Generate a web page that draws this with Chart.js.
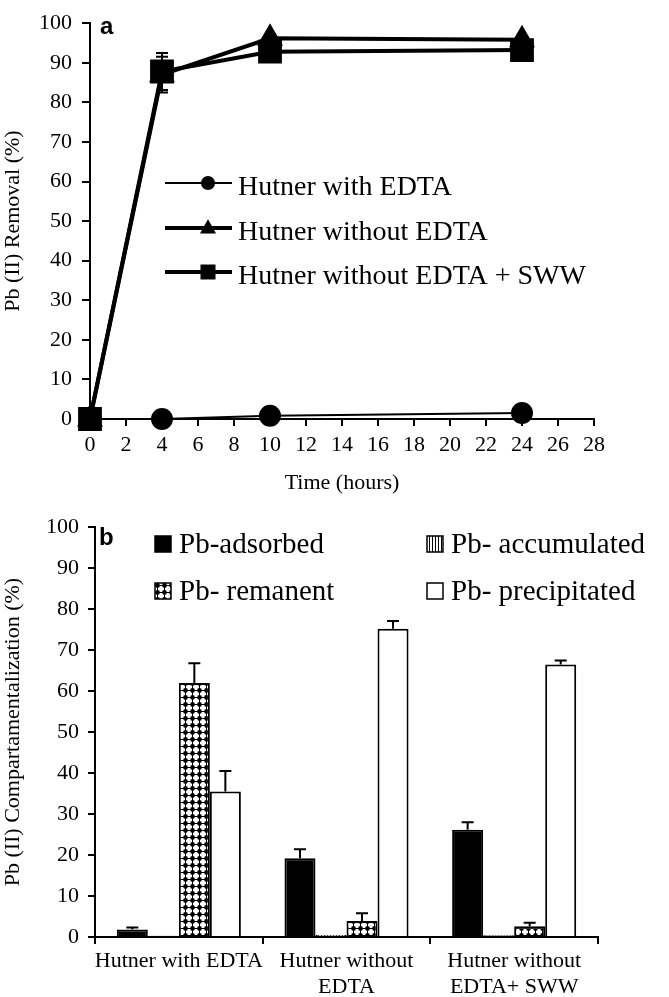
<!DOCTYPE html>
<html>
<head>
<meta charset="utf-8">
<script src="https://cdn.jsdelivr.net/npm/chart.js@4.4.0/dist/chart.umd.min.js"></script>
<style>
  body { margin: 0; background: #fff; }
  #wrap { position: relative; width: 669px; height: 997px; }
  canvas { position: absolute; left: 0; }
  #chartA { top: 0; }
  #chartB { top: 505px; }
</style>
</head>
<body>
<div id="wrap">
  <canvas id="chartA" width="669" height="510"></canvas>
  <canvas id="chartB" width="669" height="492"></canvas>
</div>
<script>
// ---- data (panel a) ----
var hours = [0, 4, 10, 24];
var withEdta = [0, 0, 0.8, 1.5];
var withoutEdta = [0, 87, 96.2, 95.8];
var withoutEdtaSww = [0, 87.8, 92.8, 93.2];
var withEdtaErr = [0, 0.2, 0.3, 0.4];
var withoutEdtaErr = [0, 4.5, 0.8, 0.6];
var withoutEdtaSwwErr = [0, 4.7, 0.8, 0.6];

// ---- data (panel b) ----
var groups = [['Hutner with EDTA'], ['Hutner without', 'EDTA'], ['Hutner without', 'EDTA+ SWW']];
var adsorbed = [1.8, 19.2, 26.2];
var accumulated = [0.3, 0.5, 0.4];
var remanent = [62, 3.9, 2.6];
var precipitated = [35.5, 75.2, 66.5];
var adsorbedErr = [0.5, 2.2, 1.8];
var accumulatedErr = [0, 0, 0];
var remanentErr = [4.8, 1.9, 0.9];
var precipitatedErr = [5, 1.9, 1];

var SERIF = '"Liberation Serif", "Times New Roman", serif';
Chart.defaults.color = '#000';
Chart.defaults.font.family = SERIF;
Chart.defaults.font.size = 22;

function pts(xs, ys) {
    return xs.map(function (x, i) { return { x: x, y: ys[i] }; });
}

function marker(ctx, style, x, y, s) {
    ctx.fillStyle = '#000';
    ctx.beginPath();
    if (style === 'circle') {
        ctx.arc(x, y, s, 0, Math.PI * 2);
    } else if (style === 'triangle') {
        ctx.moveTo(x, y - s * 1.1);
        ctx.lineTo(x + s, y + s * 0.7);
        ctx.lineTo(x - s, y + s * 0.7);
        ctx.closePath();
    } else {
        ctx.rect(x - s, y - s, s * 2, s * 2);
    }
    ctx.fill();
}

// error bars for the line chart (drawn under the markers)
var lineErrors = {
    id: 'lineErrors',
    beforeDatasetsDraw: function (chart) {
        var ctx = chart.ctx, ys = chart.scales.y;
        chart.data.datasets.forEach(function (ds, i) {
            var meta = chart.getDatasetMeta(i);
            ds.errors.forEach(function (e, j) {
                if (!e) return;
                var p = meta.data[j];
                var v = ds.data[j].y;
                var t = ys.getPixelForValue(v + e), b = ys.getPixelForValue(v - e);
                ctx.save();
                ctx.strokeStyle = '#000';
                ctx.lineWidth = 2;
                ctx.beginPath();
                ctx.moveTo(p.x, t); ctx.lineTo(p.x, b);
                ctx.moveTo(p.x - 6, t); ctx.lineTo(p.x + 6, t);
                ctx.moveTo(p.x - 6, b); ctx.lineTo(p.x + 6, b);
                ctx.stroke();
                ctx.restore();
            });
        });
    }
};

var lineLegend = {
    id: 'lineLegend',
    afterDraw: function (chart) {
        var ctx = chart.ctx;
        var rows = [188, 233, 277];
        var sizes = { circle: 7, triangle: 8, rect: 7.5 };
        chart.data.datasets.forEach(function (ds, i) {
            var y = rows[ds.legendRow];
            ctx.save();
            ctx.strokeStyle = '#000';
            ctx.lineWidth = ds.borderWidth;
            ctx.beginPath();
            ctx.moveTo(165, y - 5); ctx.lineTo(232, y - 5);
            ctx.stroke();
            marker(ctx, ds.pointStyle, 208, y - 5, sizes[ds.pointStyle]);
            ctx.font = '28px ' + SERIF;
            ctx.textBaseline = 'middle';
            ctx.fillText(ds.label, 238, y);
            ctx.restore();
        });
    }
};

var panelLetter = {
    id: 'panelLetter',
    afterDraw: function (chart) {
        var o = chart.options.plugins.panelLetter;
        var ctx = chart.ctx;
        ctx.save();
        ctx.font = 'bold 24px "Liberation Sans", Arial, sans-serif';
        ctx.fillStyle = '#000';
        ctx.textBaseline = 'alphabetic';
        ctx.fillText(o.text, o.x, o.y);
        ctx.restore();
    }
};

var ctxA = document.getElementById('chartA').getContext('2d');
var chartA = new Chart(ctxA, {
    type: 'line',
    data: {
        datasets: [{
            label: 'Hutner with EDTA',
            data: pts(hours, withEdta),
            errors: withEdtaErr,
            legendRow: 0,
            borderColor: '#000',
            backgroundColor: '#000',
            borderWidth: 2,
            pointStyle: 'circle',
            pointRadius: 10,
            order: 2,
            clip: false
        }, {
            label: 'Hutner without EDTA',
            data: pts(hours, withoutEdta),
            errors: withoutEdtaErr,
            legendRow: 1,
            borderColor: '#000',
            backgroundColor: '#000',
            borderWidth: 4,
            pointStyle: 'triangle',
            pointRadius: 11,
            order: 1,
            clip: false
        }, {
            label: 'Hutner without EDTA + SWW',
            data: pts(hours, withoutEdtaSww),
            errors: withoutEdtaSwwErr,
            legendRow: 2,
            borderColor: '#000',
            backgroundColor: '#000',
            borderWidth: 4,
            pointStyle: 'rect',
            pointRadius: 14,
            order: 0,
            clip: false
        }]
    },
    options: {
        responsive: false,
        animation: false,
        layout: { padding: { top: 18, left: 0, right: 75, bottom: 0 } },
        plugins: {
            legend: { display: false },
            tooltip: { enabled: false },
            panelLetter: { text: 'a', x: 100, y: 34 }
        },
        scales: {
            x: {
                type: 'linear',
                min: 0,
                max: 28,
                ticks: { stepSize: 2, padding: 6 },
                grid: { display: true, drawOnChartArea: false, color: '#000', lineWidth: 2, tickLength: 7 },
                border: { color: '#000', width: 2 },
                title: { display: true, text: 'Time (hours)', padding: { top: 0, bottom: 14 } },
                afterFit: function (s) { s.height = 91; }
            },
            y: {
                min: 0,
                max: 100,
                ticks: { stepSize: 10, padding: 10 },
                grid: { display: true, drawOnChartArea: false, color: '#000', lineWidth: 2, tickLength: 8 },
                border: { color: '#000', width: 2 },
                title: { display: true, text: 'Pb (II) Removal (%)', padding: { top: 0, bottom: 0 } },
                afterFit: function (s) { s.width = 90; }
            }
        }
    },
    plugins: [lineErrors, lineLegend, panelLetter]
});

// ---- panel b patterns ----
function dotPattern(ctx) {
    var c = document.createElement('canvas');
    c.width = 7; c.height = 7;
    var g = c.getContext('2d');
    g.fillStyle = '#fff'; g.fillRect(0, 0, 7, 7);
    g.fillStyle = '#000';
    g.beginPath(); g.arc(3.5, 3.5, 2.4, 0, Math.PI * 2); g.fill();
    g.fillRect(0, 3, 7, 1);
    g.fillRect(3, 0, 1, 7);
    return ctx.createPattern(c, 'repeat');
}
function stripePattern(ctx) {
    var c = document.createElement('canvas');
    c.width = 3; c.height = 3;
    var g = c.getContext('2d');
    g.fillStyle = '#fff'; g.fillRect(0, 0, 3, 3);
    g.fillStyle = '#000'; g.fillRect(0, 0, 1, 3);
    return ctx.createPattern(c, 'repeat');
}

var barErrors = {
    id: 'barErrors',
    afterDatasetsDraw: function (chart) {
        var ctx = chart.ctx, ys = chart.scales.y;
        chart.data.datasets.forEach(function (ds, i) {
            var meta = chart.getDatasetMeta(i);
            ds.errors.forEach(function (e, j) {
                if (!e) return;
                var bar = meta.data[j];
                var t = ys.getPixelForValue(ds.data[j] + e);
                ctx.save();
                ctx.strokeStyle = '#000';
                ctx.lineWidth = 2;
                ctx.beginPath();
                ctx.moveTo(bar.x, bar.y); ctx.lineTo(bar.x, t);
                ctx.moveTo(bar.x - 6, t); ctx.lineTo(bar.x + 6, t);
                ctx.stroke();
                ctx.restore();
            });
        });
    }
};

var barLegend = {
    id: 'barLegend',
    afterDraw: function (chart) {
        var ctx = chart.ctx;
        // positions in canvas B coordinates (canvas top at 505)
        var spots = [[155, 40], [427, 40], [155, 87], [427, 87]];
        chart.data.datasets.forEach(function (ds, i) {
            var p = spots[i];
            ctx.save();
            ctx.fillStyle = ds.backgroundColor;
            ctx.fillRect(p[0], p[1] - 9, 16, 16);
            ctx.strokeStyle = '#000';
            ctx.lineWidth = 1.5;
            ctx.strokeRect(p[0], p[1] - 9, 16, 16);
            ctx.fillStyle = '#000';
            ctx.font = '29px ' + SERIF;
            ctx.textBaseline = 'middle';
            ctx.fillText(ds.label, p[0] + 24, p[1]);
            ctx.restore();
        });
    }
};

var ctxB = document.getElementById('chartB').getContext('2d');
var chartB = new Chart(ctxB, {
    type: 'bar',
    data: {
        labels: groups,
        datasets: [{
            label: 'Pb-adsorbed',
            data: adsorbed,
            errors: adsorbedErr,
            backgroundColor: '#000'
        }, {
            label: 'Pb- accumulated',
            data: accumulated,
            errors: accumulatedErr,
            backgroundColor: stripePattern(ctxB)
        }, {
            label: 'Pb- remanent',
            data: remanent,
            errors: remanentErr,
            backgroundColor: dotPattern(ctxB)
        }, {
            label: 'Pb- precipitated',
            data: precipitated,
            errors: precipitatedErr,
            backgroundColor: '#fff'
        }]
    },
    options: {
        responsive: false,
        animation: false,
        layout: { padding: { top: 15, left: 0, right: 71, bottom: 0 } },
        datasets: {
            bar: {
                borderColor: '#000',
                borderWidth: 2,
                categoryPercentage: 0.74,
                barPercentage: 1
            }
        },
        plugins: {
            legend: { display: false },
            tooltip: { enabled: false },
            panelLetter: { text: 'b', x: 99, y: 40 }
        },
        scales: {
            x: {
                ticks: { padding: 4, autoSkip: false, maxRotation: 0, minRotation: 0 },
                grid: { display: true, drawOnChartArea: false, color: '#000', lineWidth: 2, tickLength: 7, offset: true },
                border: { color: '#000', width: 2 },
                afterFit: function (s) { s.height = 60; }
            },
            y: {
                min: 0,
                max: 100,
                ticks: { stepSize: 10, padding: 9 },
                grid: { display: true, drawOnChartArea: false, color: '#000', lineWidth: 2, tickLength: 7 },
                border: { color: '#000', width: 2 },
                title: { display: true, text: 'Pb (II) Compartamentalization (%)', padding: { top: 0, bottom: 0 } },
                afterFit: function (s) { s.width = 95; }
            }
        }
    },
    plugins: [barErrors, barLegend, panelLetter]
});
</script>
</body>
</html>
